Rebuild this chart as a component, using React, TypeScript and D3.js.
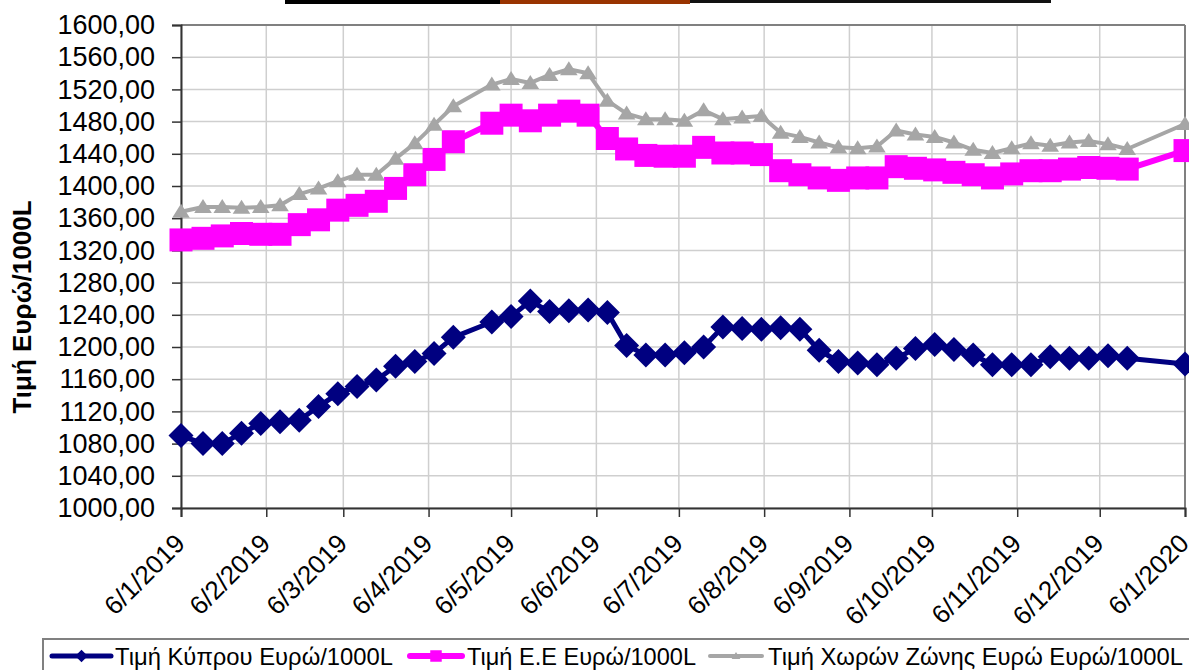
import React, { useEffect, useRef } from "react";
import * as d3 from "d3";

// weekly price dates (d/m/yyyy)
const dates = [
  "6/1/2019", "14/1/2019", "21/1/2019", "28/1/2019", "4/2/2019", "11/2/2019", "18/2/2019", "25/2/2019",
  "4/3/2019", "11/3/2019", "18/3/2019", "25/3/2019", "1/4/2019", "8/4/2019", "15/4/2019", "29/4/2019",
  "6/5/2019", "13/5/2019", "20/5/2019", "27/5/2019", "3/6/2019", "10/6/2019", "17/6/2019", "24/6/2019",
  "1/7/2019", "8/7/2019", "15/7/2019", "22/7/2019", "29/7/2019", "5/8/2019", "12/8/2019", "19/8/2019",
  "26/8/2019", "2/9/2019", "9/9/2019", "16/9/2019", "23/9/2019", "30/9/2019", "7/10/2019", "14/10/2019",
  "21/10/2019", "28/10/2019", "4/11/2019", "11/11/2019", "18/11/2019", "25/11/2019", "2/12/2019",
  "9/12/2019", "16/12/2019", "6/1/2020",
];

const cyprus = [
  1090, 1080, 1080, 1093, 1105, 1107, 1109, 1126, 1142, 1151, 1159, 1176, 1182,
  1192, 1212, 1231, 1238, 1257, 1244, 1245, 1246, 1243, 1202, 1190, 1190,
  1193, 1200, 1225, 1223, 1222, 1224, 1222, 1196, 1182, 1180, 1178, 1186, 1198,
  1203, 1197, 1190, 1178, 1178, 1178, 1188, 1186, 1186, 1189, 1186, 1179,
];

const eu = [
  1333, 1335, 1338, 1341, 1340, 1340, 1352, 1358, 1370, 1376, 1381, 1397, 1414,
  1433, 1455, 1478, 1488, 1481, 1488, 1493, 1488, 1459, 1446, 1438, 1437,
  1437, 1448, 1441, 1441, 1439, 1419, 1414, 1410, 1407, 1410, 1410, 1424, 1422,
  1420, 1417, 1414, 1410, 1415, 1419, 1419, 1421, 1423, 1422, 1421, 1444,
];

const zone = [
  1368, 1374, 1374, 1373, 1374, 1376, 1390, 1397, 1406, 1414, 1414, 1434, 1453,
  1476, 1499, 1526, 1533, 1528, 1538, 1545, 1540, 1506, 1490, 1483, 1483,
  1481, 1494, 1483, 1485, 1487, 1466, 1461, 1454, 1448, 1447, 1449, 1469, 1464,
  1461, 1454, 1445, 1441, 1447, 1453, 1450, 1454, 1456, 1452, 1446, 1477,
];

const xTickLabels = [
  "6/1/2019", "6/2/2019", "6/3/2019", "6/4/2019", "6/5/2019", "6/6/2019", "6/7/2019",
  "6/8/2019", "6/9/2019", "6/10/2019", "6/11/2019", "6/12/2019", "6/1/2020",
];

const yTicks = [1000, 1040, 1080, 1120, 1160, 1200, 1240, 1280, 1320, 1360, 1400, 1440, 1480, 1520, 1560, 1600];

const seriesNames = [
  "Τιμή Κύπρου Ευρώ/1000L",
  "Τιμή Ε.Ε Ευρώ/1000L",
  "Τιμή Χωρών Ζώνης Ευρώ Ευρώ/1000L",
];

const FONT = "'Liberation Sans', Arial, sans-serif";

const App = () => {
  const ref = useRef<SVGSVGElement>(null);

  useEffect(() => {
    if (!ref.current) return;
    const svg = d3.select(ref.current);
    svg.selectAll("*").remove();

    const W = 1189;
    const H = 670;
    const margin = { top: 25, right: 4, bottom: 162, left: 181 };
    const plotW = W - margin.left - margin.right;
    const plotH = H - margin.top - margin.bottom;

    const parse = d3.timeParse("%d/%m/%Y");
    const pts = dates.map((d, i) => ({ date: parse(d) as Date, cy: cyprus[i], eu: eu[i], zone: zone[i] }));
    const xTicks = xTickLabels.map(s => parse(s) as Date);

    const x = d3.scaleTime()
      .domain([xTicks[0], xTicks[xTicks.length - 1]])
      .range([0, plotW]);
    const y = d3.scaleLinear().domain([1000, 1600]).range([plotH, 0]);

    svg.append("rect").attr("width", W).attr("height", H).attr("fill", "#fff");

    // top strip (remnant of a header)
    svg.append("rect").attr("x", 285).attr("y", 0).attr("width", 215).attr("height", 4).attr("fill", "#000");
    svg.append("rect").attr("x", 500).attr("y", 0).attr("width", 190).attr("height", 4).attr("fill", "#993300");
    svg.append("rect").attr("x", 690).attr("y", 0).attr("width", 361).attr("height", 3).attr("fill", "#111");

    const g = svg.append("g").attr("transform", `translate(${margin.left},${margin.top})`);

    // gridlines
    g.append("g")
      .selectAll("line")
      .data(yTicks)
      .enter()
      .append("line")
      .attr("x1", 0)
      .attr("x2", plotW)
      .attr("y1", d => y(d))
      .attr("y2", d => y(d))
      .attr("stroke", "#cfcfcf")
      .attr("stroke-width", 1.5);

    g.append("g")
      .selectAll("line")
      .data(xTicks)
      .enter()
      .append("line")
      .attr("x1", d => x(d))
      .attr("x2", d => x(d))
      .attr("y1", 0)
      .attr("y2", plotH)
      .attr("stroke", "#cfcfcf")
      .attr("stroke-width", 1.5);

    // plot border (top / right)
    g.append("line").attr("x1", 0).attr("x2", plotW).attr("y1", 0).attr("y2", 0)
      .attr("stroke", "#808080").attr("stroke-width", 2);
    g.append("line").attr("x1", plotW).attr("x2", plotW).attr("y1", 0).attr("y2", plotH)
      .attr("stroke", "#808080").attr("stroke-width", 2);

    // y axis
    const yAxis = g.append("g")
      .call(d3.axisLeft(y).tickValues(yTicks).tickSize(9).tickPadding(17)
        .tickFormat(d => d3.format(".2f")(d as number).replace(".", ",")));
    yAxis.select(".domain").attr("stroke", "#333").attr("stroke-width", 2);
    yAxis.selectAll(".tick line").attr("stroke", "#333").attr("stroke-width", 1.5);
    yAxis.selectAll("text")
      .style("font-family", FONT)
      .style("font-size", "27px")
      .style("fill", "#000");

    // x axis
    const xAxis = g.append("g")
      .attr("transform", `translate(0,${plotH})`)
      .call(d3.axisBottom(x).tickValues(xTicks).tickSize(9).tickFormat((_, i) => xTickLabels[i]));
    xAxis.select(".domain").attr("stroke", "#333").attr("stroke-width", 2);
    xAxis.selectAll(".tick line").attr("stroke", "#333").attr("stroke-width", 1.5);
    xAxis.selectAll("text")
      .attr("x", 0)
      .attr("y", 0)
      .attr("dy", 0)
      .attr("transform", "translate(5,37) rotate(-45)")
      .style("text-anchor", "end")
      .style("font-family", FONT)
      .style("font-size", "26px")
      .style("fill", "#000");

    // y title
    svg.append("text")
      .attr("transform", `translate(31,307) rotate(-90)`)
      .attr("text-anchor", "middle")
      .style("font-family", FONT)
      .style("font-size", "26px")
      .style("font-weight", "bold")
      .text("Τιμή Ευρώ/1000L");

    type P = typeof pts[number];
    const mkLine = (acc: (d: P) => number) =>
      d3.line<P>().x(d => x(d.date)).y(d => y(acc(d)));

    const diamond = (s: number) => `M0,${-s}L${s},0L0,${s}L${-s},0Z`;
    const square = (s: number) => `M${-s},${-s}H${s}V${s}H${-s}Z`;
    const triangle = (s: number) => `M0,${-s}L${s * 1.1},${s * 0.75}L${-s * 1.1},${s * 0.75}Z`;

    const series = [
      { acc: (d: P) => d.cy, color: "#000080", width: 5, shape: diamond, size: 12.5 },
      { acc: (d: P) => d.eu, color: "#FF00FF", width: 6, shape: square, size: 11.5 },
      { acc: (d: P) => d.zone, color: "#A6A6A6", width: 4, shape: triangle, size: 8 },
    ];

    series.forEach(s => {
      g.append("path")
        .datum(pts)
        .attr("fill", "none")
        .attr("stroke", s.color)
        .attr("stroke-width", s.width)
        .attr("stroke-linejoin", "round")
        .attr("d", mkLine(s.acc));
      g.append("g")
        .selectAll("path")
        .data(pts)
        .enter()
        .append("path")
        .attr("transform", d => `translate(${x(d.date)},${y(s.acc(d))})`)
        .attr("d", s.shape(s.size))
        .attr("fill", s.color);
    });

    // legend
    svg.append("rect")
      .attr("x", 43)
      .attr("y", 639)
      .attr("width", 1170)
      .attr("height", 60)
      .attr("fill", "#fff")
      .attr("stroke", "#808080")
      .attr("stroke-width", 2);

    const legendItems = [
      { x1: 52, x2: 111, textX: 115, textW: 278 },
      { x1: 410, x2: 462, textX: 467, textW: 229 },
      { x1: 710, x2: 762, textX: 768, textW: 415 },
    ];
    const ly = 656;
    legendItems.forEach((it, i) => {
      const s = series[i];
      const lg = svg.append("g");
      lg.append("line")
        .attr("x1", it.x1)
        .attr("x2", it.x2)
        .attr("y1", ly)
        .attr("y2", ly)
        .attr("stroke", s.color)
        .attr("stroke-width", s.width)
        .attr("stroke-linecap", "round");
      lg.append("path")
        .attr("transform", `translate(${(it.x1 + it.x2) / 2},${ly})`)
        .attr("d", s.shape(s.size * 0.5))
        .attr("fill", s.color);
      lg.append("text")
        .attr("x", it.textX)
        .attr("y", ly)
        .attr("dy", "0.36em")
        .attr("textLength", it.textW)
        .attr("lengthAdjust", "spacingAndGlyphs")
        .style("font-family", FONT)
        .style("font-size", "24px")
        .style("fill", "#000")
        .text(seriesNames[i]);
    });
  }, []);

  return (
    <div style={{ position: "absolute", left: 0, top: 0 }}>
      <svg ref={ref} width={1189} height={670} style={{ display: "block" }} />
    </div>
  );
};

export default App;
